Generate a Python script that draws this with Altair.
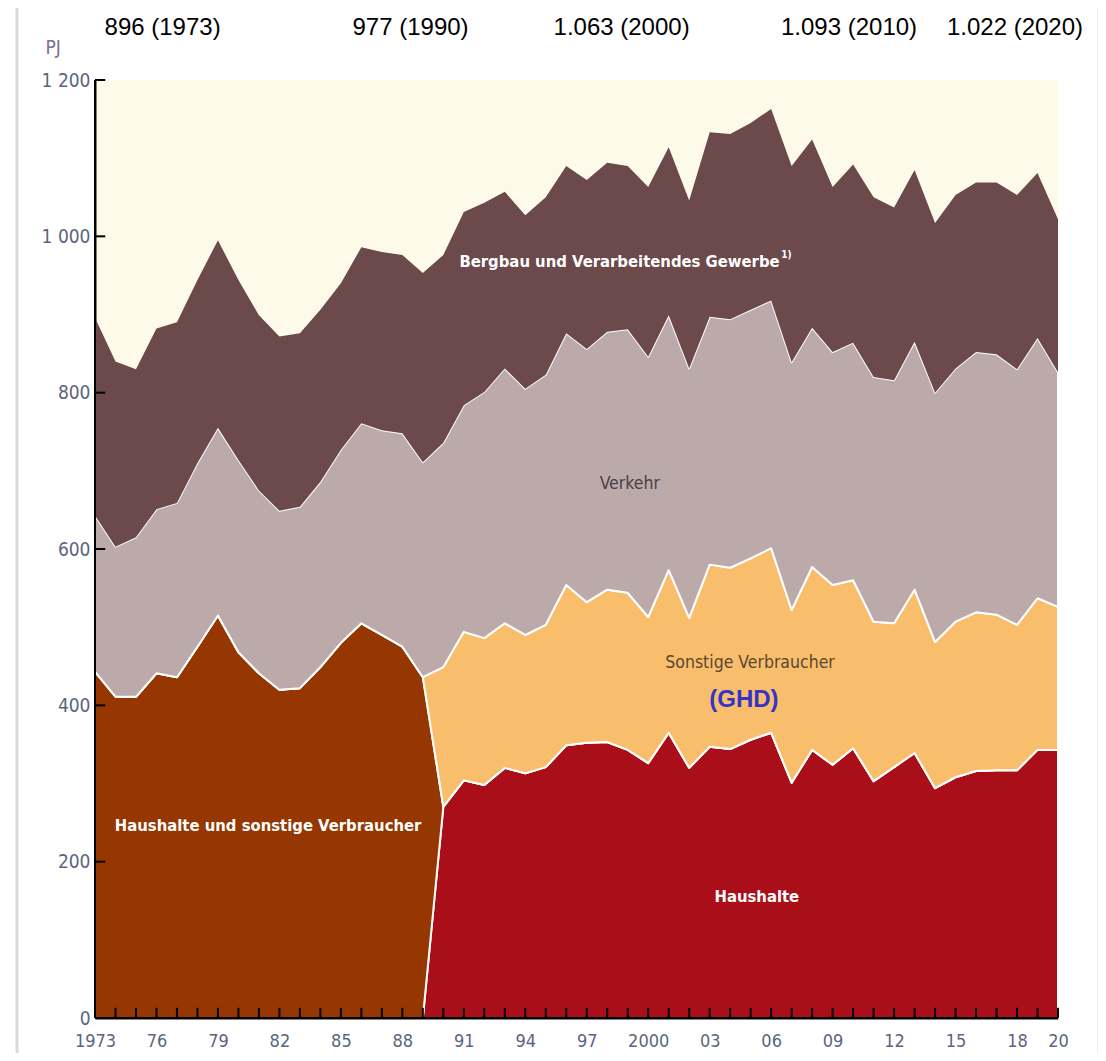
import altair as alt
import pandas as pd

# ---------------- data (PJ) ----------------
years_early = list(range(1973, 1990))   # "Haushalte und sonstige Verbraucher" combined
years_late = list(range(1990, 2021))    # split into Haushalte / Sonstige Verbraucher (GHD)
years_all = years_early + years_late

haushalte_sonstige = [443, 411, 411, 441, 436, 475, 515, 468, 441, 420, 422, 449, 480, 505, 490, 475, 436]

haushalte = [270, 304, 298, 320, 313, 321, 349, 352, 353, 343, 326, 365, 320, 347, 344, 356,
             365, 301, 343, 324, 345, 303, 321, 339, 294, 308, 316, 317, 317, 343, 343]

sonstige = [179, 190, 188, 185, 177, 182, 205, 180, 195, 201, 187, 208, 192, 233, 232, 232,
            236, 221, 234, 230, 215, 204, 184, 209, 187, 199, 203, 199, 186, 194, 183]

verkehr = [200, 192, 204, 210, 223, 235, 240, 246, 234, 229, 232, 237, 247, 256, 262, 273, 275,
           287, 290, 315, 326, 315, 320, 322, 324, 330, 337, 333, 326, 319, 317, 318, 318, 317,
           317, 306, 298, 304, 313, 311, 317, 319, 324, 333, 333, 327, 333, 300]

bergbau = [253, 237, 215, 231, 231, 234, 240, 230, 224, 223, 222, 220, 213, 225, 228, 228, 242,
           240, 247, 242, 226, 222, 227, 214, 216, 216, 209, 217, 215, 215, 236, 237, 239, 245,
           251, 241, 211, 228, 230, 221, 220, 217, 222, 217, 220, 223, 211, 196]

series_names = ["Haushalte", "Haushalte und sonstige Verbraucher", "Sonstige Verbraucher (GHD)",
                "Verkehr", "Bergbau und Verarbeitendes Gewerbe"]
series_colors = ["#AA0F19", "#963600", "#F9BE6B", "#BCA9A9", "#6C494B"]

# axis labels
x_label_years = [1973, 1976, 1979, 1982, 1985, 1988, 1991, 1994, 1997, 2000,
                 2003, 2006, 2009, 2012, 2015, 2018, 2020]
y_label_values = [0, 200, 400, 600, 800, 1000, 1200]

# top annotations (totals)
top_texts = ["896 (1973)", "977 (1990)", "1.063 (2000)", "1.093 (2010)", "1.022 (2020)"]
top_anchor_years = [1976.3, 1988.4, 1998.7, 2009.8, 2017.9]

# ---------------- build long table ----------------
rows = []
early_map = dict(zip(years_early, haushalte_sonstige))
late_h = dict(zip(years_late, haushalte))
late_s = dict(zip(years_late, sonstige))
for i, yr in enumerate(years_all):
    vals = [late_h.get(yr, 0), early_map.get(yr, 0), late_s.get(yr, 0), verkehr[i], bergbau[i]]
    for rank, (name, v) in enumerate(zip(series_names, vals)):
        rows.append({"year": yr, "series": name, "value": v, "rank": rank})
df = pd.DataFrame(rows)

W, H = 963, 938
NARROW = "DejaVu Sans Condensed, Roboto, sans-serif"
AXIS_COLOR = "#5d6480"

label_expr = ("(datum.value == 1973 || datum.value == 2000) ? toString(datum.value) : "
              "slice(toString(datum.value), 2)")

x_scale = alt.Scale(domain=[1973, 2020], nice=False, zero=False)
y_scale = alt.Scale(domain=[0, 1200], nice=False)

x_axis = alt.Axis(values=x_label_years, ticks=False, domainColor="black", domainWidth=2,
                  labelExpr=label_expr, labelFont=NARROW, labelFontSize=18,
                  labelColor=AXIS_COLOR, labelPadding=14, labelOverlap=False,
                  labelFlush=False, title=None, grid=False)
y_axis = alt.Axis(values=y_label_values, ticks=False,
                  domainColor="black", domainWidth=2,
                  labelExpr="replace(format(datum.value, ','), ',', ' ')",
                  labelFont=NARROW, labelFontSize=19, labelColor=AXIS_COLOR,
                  labelPadding=5, labelOverlap=False, labelFlush=False, grid=False,
                  title="PJ", titleAngle=0, titleAlign="left", titleBaseline="middle",
                  titleX=-50, titleY=-33, titleFont=NARROW, titleFontSize=19,
                  titleFontWeight="normal", titleColor="#7a6f90")

XA = dict(scale=x_scale, axis=x_axis)
YA = dict(scale=y_scale, axis=y_axis)

areas = alt.Chart(df).mark_area(interpolate="linear", stroke="white", strokeJoin="round").encode(
    x=alt.X("year:Q", **XA),
    y=alt.Y("value:Q", stack="zero", **YA),
    color=alt.Color("series:N", scale=alt.Scale(domain=series_names, range=series_colors),
                    legend=None),
    order=alt.Order("rank:Q"),
    strokeWidth=alt.condition(alt.datum.series == series_names[-1], alt.value(0), alt.value(2)),
)

# axis lines and inside ticks drawn on top of the areas
frame_df = pd.DataFrame({"k": [0]})
x_line = alt.Chart(frame_df).mark_rule(color="black", strokeWidth=2).encode(
    x=alt.datum(1973), x2=alt.datum(2020), y=alt.datum(0))
y_line = alt.Chart(frame_df).mark_rule(color="black", strokeWidth=2).encode(
    x=alt.datum(1973), y=alt.datum(0), y2=alt.datum(1200))

xtick_df = pd.DataFrame({"year": years_all[1:]})
x_ticks = alt.Chart(xtick_df).mark_rule(color="black", strokeWidth=2).encode(
    x=alt.X("year:Q", **XA),
    y=alt.datum(0),
    y2=alt.datum(13),
)
ytick_df = pd.DataFrame({"v": y_label_values[1:]})
y_ticks = alt.Chart(ytick_df).mark_rule(color="black", strokeWidth=2).encode(
    y=alt.Y("v:Q", **YA),
    x=alt.datum(1973),
    x2=alt.datum(1973.5),
)

# in-chart labels
white_bold = pd.DataFrame({
    "t": ["Bergbau und Verarbeitendes Gewerbe", "Haushalte und sonstige Verbraucher", "Haushalte"],
    "x": [1998.6, 1981.45, 2005.3],
    "y": [967, 246, 155],
})
lbl_white = alt.Chart(white_bold).mark_text(font=NARROW, fontSize=16.5, fontWeight="bold",
                                            color="white").encode(
    x=alt.X("x:Q", **XA), y=alt.Y("y:Q", **YA), text="t:N")

sup = alt.Chart(pd.DataFrame({"t": ["1)"], "x": [2006.75], "y": [976]})).mark_text(
    font=NARROW, fontSize=10, fontWeight="bold", color="white").encode(
    x=alt.X("x:Q", **XA), y=alt.Y("y:Q", **YA), text="t:N")

dark_df = pd.DataFrame({
    "t": ["Verkehr", "Sonstige Verbraucher"],
    "x": [1999.1, 2004.97],
    "y": [683, 454],
    "c": ["#4b3f46", "#5a4634"],
})
lbl_dark = alt.Chart(dark_df).mark_text(font=NARROW, fontSize=17.5).encode(
    x=alt.X("x:Q", **XA), y=alt.Y("y:Q", **YA), text="t:N",
    color=alt.Color("c:N", scale=None))

ghd = alt.Chart(pd.DataFrame({"t": ["(GHD)"], "x": [2004.67], "y": [407]})).mark_text(
    font="Liberation Sans, Arial, sans-serif", fontSize=24, fontWeight="bold",
    color="#3434C8").encode(
    x=alt.X("x:Q", **XA), y=alt.Y("y:Q", **YA), text="t:N")

top_df = pd.DataFrame({"t": top_texts, "x": top_anchor_years})
top = alt.Chart(top_df).mark_text(font="Liberation Sans, Arial, sans-serif", fontSize=24,
                                  color="black", baseline="middle").encode(
    x=alt.X("x:Q", **XA), y=alt.value(-52), text="t:N")

# page frame lines seen in the reference
frame_left = alt.Chart(frame_df).mark_rule(color="#d9d9d9", strokeWidth=3).encode(
    x=alt.value(-78), y=alt.value(-90), y2=alt.value(H + 50))
frame_right = alt.Chart(frame_df).mark_rule(color="#d9d9d9", strokeWidth=3).encode(
    x=alt.value(1004), y=alt.value(-90), y2=alt.value(H + 50))

chart = alt.layer(areas, lbl_white, sup, lbl_dark, ghd, top,
                  frame_left, frame_right, x_line, y_line, x_ticks, y_ticks).properties(
    width=W, height=H,
    autosize=alt.AutoSizeParams(type="none"),
    padding={"left": 87, "top": 72, "right": 40, "bottom": 35},
).configure_view(fill="#FEFAE9", stroke=None)

chart.save("out.html", embed_options={"renderer": "svg", "actions": False})
